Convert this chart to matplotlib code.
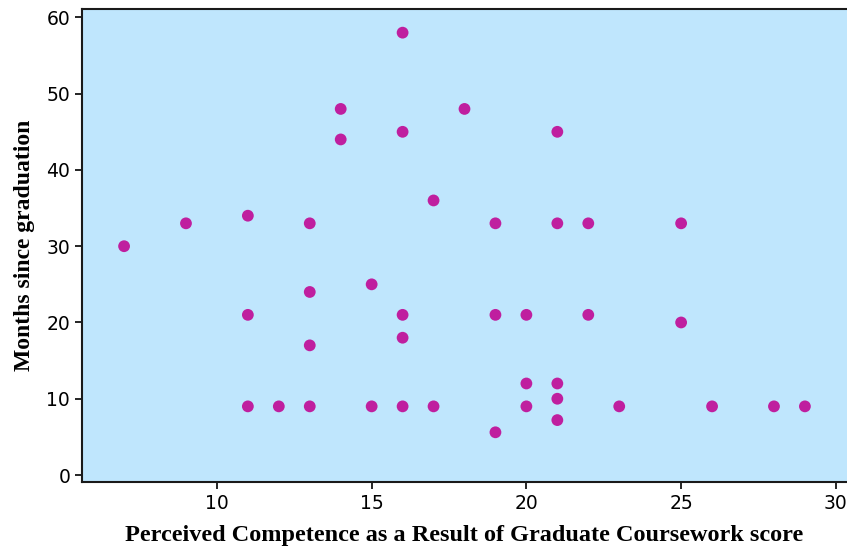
import matplotlib
matplotlib.use("Agg")
import matplotlib.pyplot as plt

# Data
competence = [7, 9, 11, 11, 11, 12, 13, 13, 13, 13, 14, 14, 15, 15,
              16, 16, 16, 16, 16, 17, 17, 18, 19, 19, 19, 20, 20, 20,
              21, 21, 21, 21, 21, 22, 22, 23, 25, 25, 26, 28, 29]
months = [30, 33, 34, 21, 9, 9, 33, 24, 17, 9, 48, 44, 25, 9,
          58, 45, 21, 18, 9, 36, 9, 48, 33, 21, 5.6, 21, 12, 9,
          45, 33, 12, 10, 7.2, 33, 21, 9, 33, 20, 9, 9, 9]
x_ticks = [10, 15, 20, 25, 30]
y_ticks = [0, 10, 20, 30, 40, 50, 60]

fig = plt.figure(figsize=(8.47, 5.5), dpi=100)
ax = fig.add_axes([0.0968, 0.1236, 0.9032, 0.86])
ax.set_facecolor("#BFE6FD")
ax.scatter(competence, months, s=72, color="#BF1F9F", edgecolors="none", zorder=3)

ax.set_xlim(5.64, 30.36)
ax.set_ylim(-0.92, 61.1)
ax.set_xticks(x_ticks)
ax.set_yticks(y_ticks)
ax.tick_params(axis="both", direction="out", length=5, width=1.2, labelsize=13.5, colors="black")
for side in ["left", "bottom", "top"]:
    ax.spines[side].set_linewidth(1.5)
    ax.spines[side].set_color("#1a1a1a")
ax.spines["right"].set_visible(False)

ax.set_xlabel("Perceived Competence as a Result of Graduate Coursework score",
              family="Liberation Serif", fontweight="bold", fontsize=17.5, labelpad=9)
ax.set_ylabel("Months since graduation",
              family="Liberation Serif", fontweight="bold", fontsize=17, labelpad=8)

fig.savefig("out.png", dpi=100)
